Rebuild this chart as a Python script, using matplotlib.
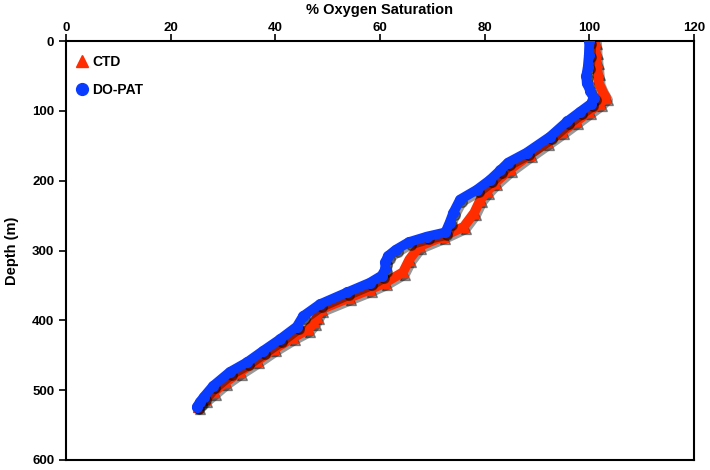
import matplotlib
matplotlib.use("Agg")
import matplotlib.pyplot as plt
import matplotlib.transforms as mtransforms
from matplotlib.lines import Line2D

plt.rcParams['font.family'] = ['Liberation Sans', 'DejaVu Sans']
plt.rcParams['font.weight'] = 'bold'

# CTD (red triangles)
ctd_depth = [0, 15, 30, 45, 60, 72, 81, 90, 101, 115, 130, 145, 163, 184, 203, 215, 227,
             246, 266, 280, 294, 313, 331, 346, 356, 368, 384, 395, 403, 413, 425, 441,
             458, 474, 489, 503, 513, 524]
ctd_sat = [101.1, 101.2, 101.4, 101.6, 101.8, 102.5, 103.2, 102.0, 100.0, 97.5, 94.8, 92.0,
           88.6, 84.8, 82.0, 80.5, 79.2, 78.0, 76.0, 72.0, 67.5, 65.6, 64.4, 61.0, 58.0,
           54.0, 48.8, 48.0, 47.4, 46.3, 43.3, 39.8, 36.5, 33.2, 30.4, 28.2, 26.6, 25.2]

# DO-PAT (blue circles)
dopat_depth = [0, 20, 37, 50, 60, 72, 81, 90, 101, 115, 137, 160, 174, 185, 199, 213, 227,
               246, 260, 274, 280, 288, 299, 308, 317, 327, 336, 346, 360, 377, 394, 409,
               427, 444, 460, 474, 494, 510, 517, 524]
dopat_sat = [100.0, 99.9, 99.7, 99.4, 99.5, 100.2, 100.8, 100.3, 98.3, 95.8, 92.5, 88.0, 84.5,
             83.0, 81.0, 78.5, 75.3, 74.0, 73.3, 72.5, 69.0, 65.5, 63.0, 61.5, 61.0, 61.0,
             60.3, 58.1, 53.7, 48.5, 45.3, 44.1, 40.9, 37.6, 34.6, 31.3, 28.1, 26.3, 25.6, 25.0]

x_ticks = [0, 20, 40, 60, 80, 100, 120]
y_ticks = [0, 100, 200, 300, 400, 500, 600]

red = '#ff2d00'
blue = '#0a3cff'

fig = plt.figure(figsize=(7.1, 4.7), dpi=100)
ax = fig.add_axes([66/710, 1 - 460/470, (694-66)/710, (460-41)/470])

shadow = ax.transData + mtransforms.ScaledTranslation(2/100, -2.5/100, fig.dpi_scale_trans)

ax.plot(ctd_sat, ctd_depth, color='k', lw=7, alpha=0.4, marker='^', ms=7,
        transform=shadow, solid_joinstyle='round', solid_capstyle='round', zorder=1)
ax.plot(ctd_sat, ctd_depth, color=red, lw=7, marker='^', ms=7,
        solid_joinstyle='round', solid_capstyle='round', zorder=2)
ax.plot(dopat_sat, dopat_depth, color='k', lw=7, alpha=0.4, marker='o', ms=7,
        transform=shadow, solid_joinstyle='round', solid_capstyle='round', zorder=3)
ax.plot(dopat_sat, dopat_depth, color=blue, lw=7, marker='o', ms=7,
        solid_joinstyle='round', solid_capstyle='round', zorder=4)

ax.set_xlim(0, 120)
ax.set_ylim(600, 0)
ax.set_xticks(x_ticks)
ax.set_yticks(y_ticks)
ax.xaxis.tick_top()
ax.xaxis.set_label_position('top')
ax.tick_params(axis='both', direction='out', length=5, width=1.2, labelsize=9.5,
               top=True, bottom=False, left=True, right=False)
ax.tick_params(axis='x', pad=0)
for lab in ax.get_xticklabels() + ax.get_yticklabels():
    lab.set_fontweight('bold')
for s in ax.spines.values():
    s.set_linewidth(1.5)

ax.set_xlabel('% Oxygen Saturation', fontsize=10.5, fontweight='bold', labelpad=6)
ax.set_ylabel('Depth (m)', fontsize=10.5, fontweight='bold', labelpad=9)

handles = [Line2D([], [], color=red, marker='^', ls='none', ms=8),
           Line2D([], [], color=blue, marker='o', ls='none', ms=8.5)]
ax.legend(handles, ['CTD', 'DO-PAT'], loc='upper left', bbox_to_anchor=(-0.005, 1.0),
          frameon=False, prop={'weight': 'bold', 'size': 10}, handlelength=0.8,
          handletextpad=0.3, labelspacing=1.0, borderaxespad=0.6)

fig.savefig('out.png', dpi=100)
